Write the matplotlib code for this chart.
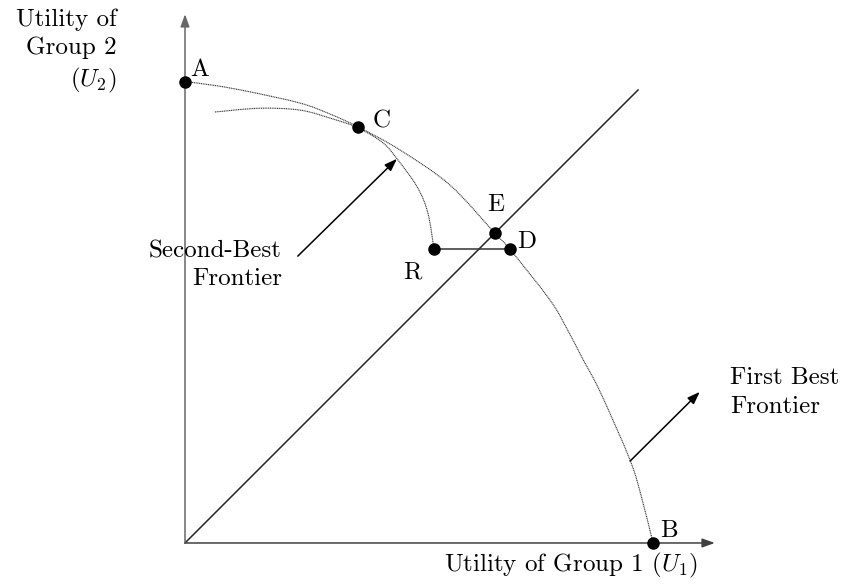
import matplotlib
matplotlib.use("Agg")
import matplotlib.pyplot as plt
import numpy as np
from matplotlib.path import Path
from matplotlib.patches import PathPatch

plt.rcParams["font.family"] = "cmr10"
plt.rcParams["mathtext.fontset"] = "cm"
plt.rcParams["axes.unicode_minus"] = False

# first-best utility frontier (U1, U2)
fb_u1 = [0.00, 0.68, 1.39, 2.46, 3.09, 3.70, 4.59, 5.66, 6.62, 6.94, 7.80, 8.16, 8.50, 8.87, 9.51, 9.77, 10.00]
fb_u2 = [9.86, 9.77, 9.64, 9.40, 9.17, 8.89, 8.40, 7.65, 6.62, 6.28, 5.19, 4.58, 3.93, 3.23, 1.77, 0.92, 0.00]

# second-best frontier
sb_u1 = [0.64, 1.60, 2.46, 3.16, 3.70, 4.23, 4.53, 4.96, 5.19, 5.32]
sb_u2 = [9.21, 9.29, 9.25, 9.06, 8.87, 8.55, 8.21, 7.61, 7.05, 6.28]

# labelled points
pt_names = ["A", "C", "E", "D", "R", "B"]
pt_u1 = [0.00, 3.70, 6.62, 6.94, 5.32, 10.00]
pt_u2 = [9.86, 8.88, 6.62, 6.28, 6.28, 0.00]

diag_end = 9.68
x_axis_end = 11.32
y_axis_end = 11.30


def smooth_path(xs, ys):
    # Catmull-Rom through the read points, drawn as cubic Bezier pieces
    p = np.column_stack([xs, ys])
    ext = np.vstack([p[0], p, p[-1]])
    verts = [p[0]]
    codes = [Path.MOVETO]
    for i in range(1, len(ext) - 2):
        c1 = ext[i] + (ext[i + 1] - ext[i - 1]) / 6
        c2 = ext[i + 1] - (ext[i + 2] - ext[i]) / 6
        verts += [c1, c2, ext[i + 1]]
        codes += [Path.CURVE4] * 3
    return Path(verts, codes)


fig = plt.figure(figsize=(8.42, 5.88), dpi=100)
ax = fig.add_axes([0, 0, 1, 1])
ax.set_xlim(-3.953, 14.038)
ax.set_ylim(-0.962, 11.603)
ax.axis("off")

arrow_kw = dict(arrowstyle="-|>,head_length=0.75,head_width=0.27", lw=1.1)

# axes with arrows
ax.annotate("", xy=(x_axis_end, 0), xytext=(0, 0),
            arrowprops=dict(**arrow_kw, color="0.25", shrinkA=0, shrinkB=0))
ax.annotate("", xy=(0, y_axis_end), xytext=(0, 0),
            arrowprops=dict(**arrow_kw, color="0.4", shrinkA=0, shrinkB=0))

# 45 degree line
ax.plot([0, diag_end], [0, diag_end], color="0.15", lw=1.1)

# frontiers
for xs, ys in [(fb_u1, fb_u2), (sb_u1, sb_u2)]:
    ax.add_patch(PathPatch(smooth_path(xs, ys), fill=False, ec="0.2",
                           lw=0.8, ls=(0, (1, 0.6))))

# R -> D segment
ax.plot([pt_u1[4], pt_u1[3]], [pt_u2[4], pt_u2[3]], color="0.2", lw=1.1)

ax.plot(pt_u1, pt_u2, "o", color="black", ms=8, zorder=5)

label_off = {"A": (0.11, 0.25), "C": (0.30, 0.12), "E": (-0.17, 0.60),
             "D": (0.15, 0.15), "R": (-0.66, -0.49), "B": (0.15, 0.26)}
for n, x, y in zip(pt_names, pt_u1, pt_u2):
    dx, dy = label_off[n]
    ax.text(x + dx, y + dy, n, fontsize=18, ha="left", va="center")

# annotation arrows
ax.annotate("", xy=(4.53, 8.21), xytext=(2.41, 6.13),
            arrowprops=dict(**arrow_kw, color="black", shrinkA=0, shrinkB=0))
ax.annotate("", xy=(11.00, 3.23), xytext=(9.51, 1.75),
            arrowprops=dict(**arrow_kw, color="black", shrinkA=0, shrinkB=0))

ax.text(2.07, 5.94, "Second-Best\nFrontier", fontsize=18, ha="right",
        va="center", multialignment="right", linespacing=1.33)
ax.text(11.65, 3.21, "First Best\nFrontier", fontsize=18, ha="left",
        va="center", multialignment="left", linespacing=1.4)

ax.text(-1.47, 10.50, "Utility of\nGroup 2\n($U_2$)", fontsize=18, ha="right",
        va="center", multialignment="right", linespacing=1.33)
ax.text(8.24, -0.47, "Utility of Group 1 ($U_1$)", fontsize=18,
        ha="center", va="center")

fig.savefig("out.png", dpi=100)
